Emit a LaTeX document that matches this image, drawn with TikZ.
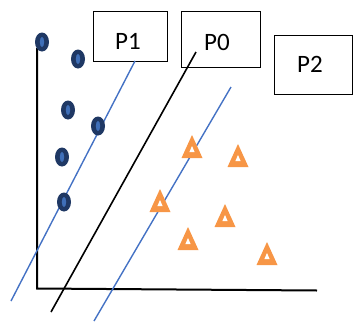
\documentclass[tikz,border=0pt]{standalone}
\usepackage{fontspec}
\setmainfont{Carlito}
\definecolor{navy}{HTML}{1F3864}
\definecolor{midblue}{HTML}{3F6FB8}
\definecolor{lineblue}{HTML}{4472C4}
\definecolor{orng}{HTML}{F79646}
\tikzset{
  box/.style={draw=black, line width=1pt, fill=white, inner sep=0pt},
  lbl/.style={font=\fontsize{25}{25}\selectfont, inner sep=0pt},
  blueline/.style={draw=lineblue, line width=1.4pt},
  blackline/.style={draw=black, line width=1.6pt},
  axis/.style={draw=black, line width=2pt},
}
\newcommand{\mydot}[2]{%
  \fill[navy] (#1,#2) ellipse [x radius=7, y radius=9.5];
  \fill[midblue] (#1,#2) ellipse [x radius=2.2, y radius=5];
}
\newcommand{\mytri}[2]{%
  \fill[orng] (#1-10.5,#2+11) -- (#1,#2-12) -- (#1+10.5,#2+11) -- cycle;
  \fill[white] (#1-2.6,#2+5) -- (#1,#2-1) -- (#1+2.6,#2+5) -- cycle;
}
\begin{document}
\begin{tikzpicture}[x=1pt,y=-1pt]
\useasboundingbox (0,0) rectangle (354,322);
% boxes
\draw[box] (93,11) rectangle (167,61);
\draw[box] (181,11) rectangle (260,67);
\draw[box] (274,35) rectangle (352,94);
\node[lbl] (p1) at (128,41) {P1};
\node[lbl] (p0) at (217,42) {P0};
\node[lbl] (p2) at (310,64) {P2};
% axes
\coordinate (ytop) at (37,48);
\coordinate (org) at (37,288.5);
\coordinate (xend) at (317,290.5);
\draw[axis] (ytop) -- (org) -- (xend);
% separating lines
\coordinate (a1) at (135,61);
\coordinate (a2) at (11,301);
\coordinate (b1) at (196,52);
\coordinate (b2) at (51,312);
\coordinate (c1) at (231,87);
\coordinate (c2) at (94,321);
\draw[blueline] (a1) -- (a2);
\draw[blackline] (b1) -- (b2);
\draw[blueline] (c1) -- (c2);
% dots
\mydot{42}{42}
\mydot{78}{59}
\mydot{68}{110}
\mydot{98}{126}
\mydot{62}{157}
\mydot{64}{202}
% triangles
\mytri{192}{147}
\mytri{238}{156}
\mytri{160}{201}
\mytri{225}{216}
\mytri{188}{239}
\mytri{267}{254}
\end{tikzpicture}
\end{document}
